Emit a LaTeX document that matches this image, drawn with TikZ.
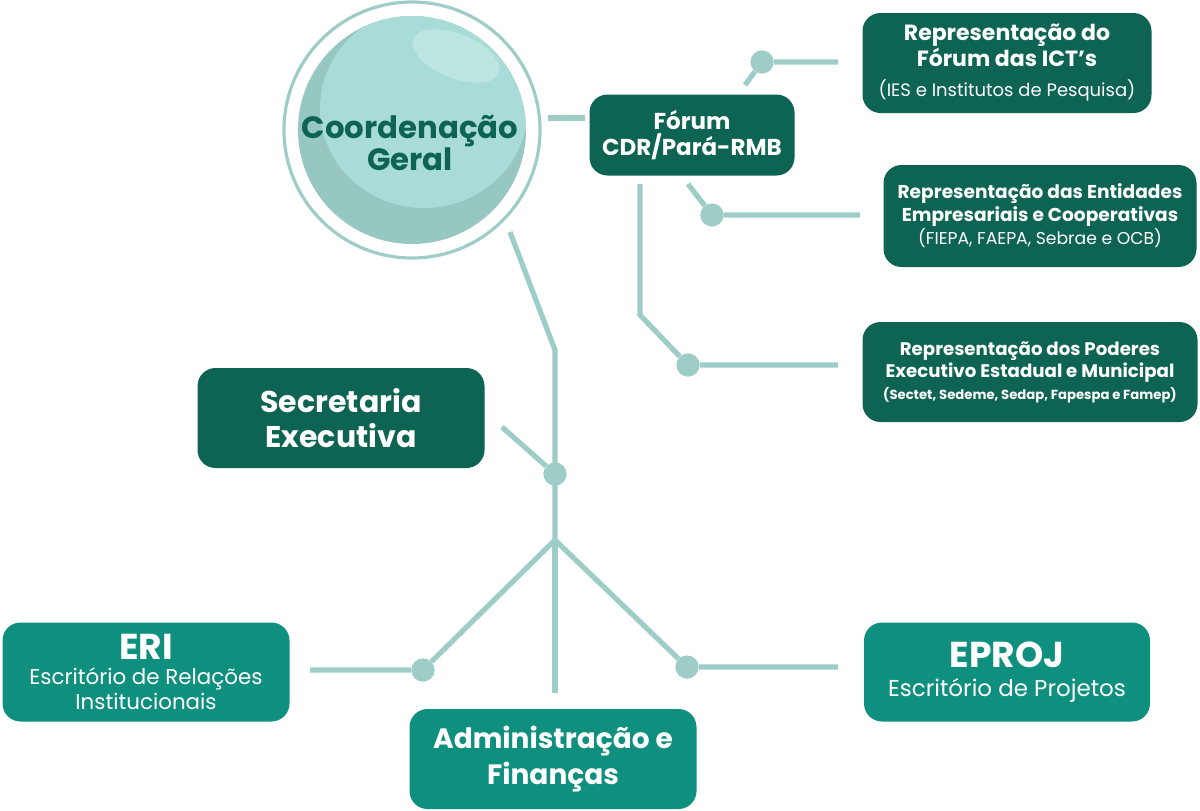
\documentclass[tikz,border=0pt]{standalone}
\usepackage{fontspec}
\setmainfont{Poppins}
\definecolor{dk}{HTML}{0E6453}
\definecolor{tl}{HTML}{0F8F7E}
\definecolor{lt}{HTML}{9ECDC8}
\definecolor{sphA}{HTML}{A9DCD6}
\definecolor{sphB}{HTML}{97C7C1}
\definecolor{sphH}{HTML}{BDE6E2}
\begin{document}
\begin{tikzpicture}[x=0.5pt,y=-0.5pt,
  conn/.style={draw=lt, line width=2.6pt},
  dotn/.style={circle, fill=lt, inner sep=0pt, minimum size=11.5pt},
  boxbase/.style={rounded corners=9pt, text=white, align=center, inner sep=0pt},
  dbox/.style={boxbase, fill=dk},
  tbox/.style={boxbase, fill=tl}]
\useasboundingbox (0,0) rectangle (1200,810);
% sphere
\fill[sphB] (412,130) circle (57pt);
\begin{scope}
  \clip (412,130) circle (57pt);
  \fill[sphA] (424,108) ellipse (52pt and 50pt);
  \fill[sphH, rotate around={-22:(456,56)}] (456,56) ellipse (23pt and 11pt);
\end{scope}
\node[circle, draw=lt, line width=1.6pt, minimum size=128pt, inner sep=0pt] (coord) at (412,130) {};
\node[text=dk, align=center, font={\fontsize{15.4}{16}\selectfont\bfseries}] (coordtxt) at (410,143)
  {Coordenação\\Geral};
% boxes
\node[dbox, minimum width=102.5pt, minimum height=40.5pt, font={\fontsize{11.5}{13}\selectfont\bfseries}] (forum) at (692,135)
  {Fórum\\CDR/Pará-RMB};
\node[dbox, minimum width=144.5pt, minimum height=50pt, font={\fontsize{11}{13}\selectfont\bfseries}] (ict) at (1007,63)
  {Representação do\\Fórum das ICT’s\\[2pt]{\fontsize{9}{10}\selectfont\mdseries (IES e Institutos de Pesquisa)}};
\node[dbox, minimum width=156.5pt, minimum height=51pt, font={\fontsize{9.3}{11.5}\selectfont\bfseries}] (ent) at (1040,216)
  {Representação das Entidades\\Empresariais e Cooperativas\\{\fontsize{8.6}{10}\selectfont\mdseries (FIEPA, FAEPA, Sebrae e OCB)}};
\node[dbox, minimum width=167.5pt, minimum height=50pt, font={\fontsize{9.1}{11}\selectfont\bfseries}] (pod) at (1030,372)
  {Representação dos Poderes\\Executivo Estadual e Municipal\\{\fontsize{6.6}{8}\selectfont (Sectet, Sedeme, Sedap, Fapespa e Famep)}};
\node[dbox, minimum width=143.5pt, minimum height=50pt, font={\fontsize{15}{17.5}\selectfont\bfseries}] (sec) at (341,418)
  {Secretaria\\Executiva};
\node[tbox, minimum width=143.5pt, minimum height=49.5pt, font={\fontsize{10.7}{12.5}\selectfont}] (eri) at (146,672)
  {{\fontsize{18}{14}\selectfont\bfseries ERI}\\Escritório de Relações\\Institucionais};
\node[tbox, minimum width=143pt, minimum height=49.5pt, font={\fontsize{11.5}{14.5}\selectfont}] (eproj) at (1007,672)
  {{\fontsize{18}{16}\selectfont\bfseries EPROJ}\\Escritório de Projetos};
\node[tbox, minimum width=143.5pt, minimum height=50pt, font={\fontsize{14}{18}\selectfont\bfseries}] (adm) at (553,759)
  {Administração e\\Finanças};
% dots
\node[dotn] (d1) at (762,62) {};
\node[dotn] (d2) at (712,215) {};
\node[dotn] (d3) at (688,365) {};
\node[dotn] (ds) at (555,474) {};
\node[dotn] (dl) at (423,670) {};
\node[dotn] (dr) at (687,667) {};
% coordinates
\coordinate (c0) at (548,118);
\coordinate (c1) at (585,118);
\coordinate (f1) at (745,85);
\coordinate (e1) at (838,62);
\coordinate (f2) at (688,184);
\coordinate (e2) at (860,215);
\coordinate (f3) at (640,184);
\coordinate (k3) at (640,315);
\coordinate (e3) at (838,365);
\coordinate (t0) at (510,232);
\coordinate (t1) at (555,350);
\coordinate (br) at (555,540);
\coordinate (s0) at (502,427);
\coordinate (el) at (310,670);
\coordinate (er) at (838,667);
\coordinate (ab) at (555,693);
% connectors
\draw[conn] (c0) -- (c1);
\draw[conn] (f1) -- (d1) -- (e1);
\draw[conn] (f2) -- (d2) -- (e2);
\draw[conn] (f3) -- (k3) -- (d3) -- (e3);
\draw[conn] (t0) -- (t1) -- (br);
\draw[conn] (s0) -- (ds);
\draw[conn] (br) -- (dl) -- (el);
\draw[conn] (br) -- (dr) -- (er);
\draw[conn] (br) -- (ab);
\node[dotn] at (d1) {};
\node[dotn] at (d2) {};
\node[dotn] at (d3) {};
\node[dotn] at (ds) {};
\node[dotn] at (dl) {};
\node[dotn] at (dr) {};
\end{tikzpicture}
\end{document}
